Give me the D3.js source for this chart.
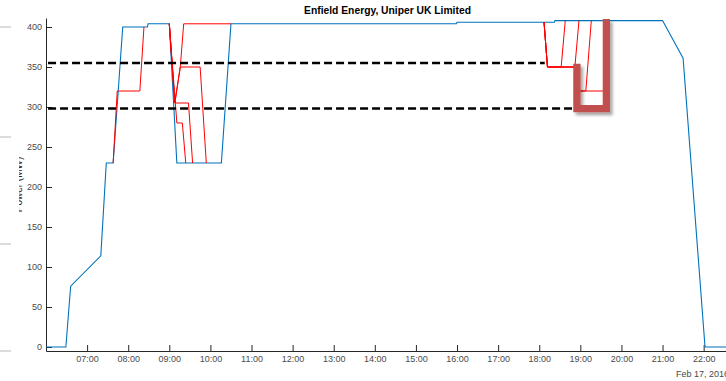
<!DOCTYPE html>
<html><head><meta charset="utf-8">
<script src="https://cdn.jsdelivr.net/npm/d3@7"></script>
<style>
html,body{margin:0;padding:0;background:#fff;overflow:hidden}
svg{display:block;font-family:"Liberation Sans",Arial,sans-serif}
</style></head>
<body>
<svg id="c" width="726" height="381"></svg>
<script>
// ---- data ----
const title = "Enfield Energy, Uniper UK Limited";
const yLabel = "Power (MW)";
const dateLabel = "Feb 17, 2016";
const xDomain = ["06:00", "22:37"];
const yDomain = [-5, 411.25];
const yTicks = [0, 50, 100, 150, 200, 250, 300, 350, 400];
const xTickHours = ["07:00","08:00","09:00","10:00","11:00","12:00","13:00","14:00","15:00","16:00","17:00","18:00","19:00","20:00","21:00","22:00"];

// final notification (blue)
const finalTimes = ["06:00","06:29","06:36","07:20","07:28","07:38","07:52","08:28","08:29","09:00","09:11","10:16","10:30","15:59","16:00","18:22","18:23","21:00","21:30","22:02","22:37"];
const finalValues = [0,0,76,114,230,230,400,400,404,404,230,230,404,404,406,406,408,408,361,0,0];

// earlier revisions (red), only where they differ from the final
const rev1Times = ["07:38","07:44","08:17","08:23"];
const rev1Values = [230,320,320,400];
const rev2Times = ["09:00","09:11","09:19","09:24"];
const rev2Values = [404,280,280,230];
const rev3Times = ["09:00","09:08","09:28","09:34"];
const rev3Values = [404,305,305,230];
const rev4Times = ["09:00","09:08","09:16","09:45","09:54"];
const rev4Values = [404,305,350,350,230];
const rev5Times = ["09:00","09:08","09:16","09:21","10:30"];
const rev5Values = [404,305,350,404,404];
const rev6Times = ["18:07","18:12","18:32","18:38"];
const rev6Values = [406,350,350,408];
const rev7Times = ["18:07","18:12","18:52","18:58"];
const rev7Values = [406,350,350,408];
const rev8Times = ["18:07","18:12","18:53","18:54","19:08","19:16"];
const rev8Values = [406,350,350,320,320,408];
const rev9Times = ["18:07","18:12","18:53","18:54","19:38","19:40"];
const rev9Values = [406,350,350,320,320,408];

// annotations
const thresholdValues = [355, 298];
const thresholdStart = "06:03";
const thresholdEnds = ["18:08", "18:49"];
const markTimes = ["18:55","18:55","19:38","19:38"];
const markValues = [354,298,298,410];

// ---- drawing ----
const parse = d3.timeParse("%Y-%m-%d %H:%M");
const T = s => parse("2016-02-17 " + s);
const zip = (ts, vs) => ts.map((t, i) => [T(t), vs[i]]);

const svg = d3.select("#c");
const defs = svg.append("defs");
const f = defs.append("filter").attr("id","sh").attr("x","-50%").attr("y","-50%").attr("width","200%").attr("height","200%");
f.append("feDropShadow").attr("dx",2.5).attr("dy",3).attr("stdDeviation",1.8).attr("flood-color","#000").attr("flood-opacity",0.35);
defs.append("clipPath").attr("id","ylc").append("rect").attr("x",19).attr("y",0).attr("width",20).attr("height",381);

const x = d3.scaleTime().domain(xDomain.map(T)).range([46, 729]);
const y = d3.scaleLinear().domain(yDomain).range([351, 18]);

// faint marks at far left (screenshot artifacts)
[27, 137, 244, 351].forEach(py => {
  svg.append("line").attr("x1",0).attr("x2",11).attr("y1",py).attr("y2",py)
    .attr("stroke","#dcdcdc").attr("stroke-width",2);
});

const tickColor = "#262626";
// y axis
const gy = svg.append("g").attr("transform", `translate(${x.range()[0]},0)`)
  .call(d3.axisLeft(y).tickValues(yTicks).tickSizeInner(-6).tickSizeOuter(0).tickPadding(4));
gy.select(".domain").attr("stroke", tickColor);
gy.selectAll(".tick line").attr("stroke", tickColor);
gy.selectAll(".tick text").attr("fill","#4a4a4a").attr("font-size", 9).attr("font-family","Liberation Sans, Arial, sans-serif");

// x axis
const gx = svg.append("g").attr("transform", `translate(0,${y.range()[0]})`)
  .call(d3.axisBottom(x).tickValues(xTickHours.map(T)).tickFormat(d3.timeFormat("%H:%M")).tickSizeInner(-6).tickSizeOuter(0).tickPadding(5));
gx.select(".domain").attr("stroke", tickColor);
gx.selectAll(".tick line").attr("stroke", tickColor);
gx.selectAll(".tick text").attr("fill","#4a4a4a").attr("font-size", 9).attr("font-family","Liberation Sans, Arial, sans-serif");

svg.append("text").attr("x", x.range()[1]).attr("y", 377).attr("text-anchor","end")
  .attr("font-size", 9).attr("fill","#4a4a4a").text(dateLabel);

// y label (mostly cropped)
svg.append("g").attr("clip-path","url(#ylc)")
  .append("text").attr("transform", `translate(22,${(y.range()[0]+y.range()[1])/2}) rotate(-90)`)
  .attr("text-anchor","middle").attr("font-size",10).attr("fill","#262626").text(yLabel);

// title
svg.append("text").attr("x", (x.range()[0]+x.range()[1])/2).attr("y", 14).attr("text-anchor","middle")
  .attr("font-size", 10.3).attr("font-weight","bold").attr("fill","#000").text(title);

const line = d3.line().x(d => x(d[0])).y(d => y(d[1]));

svg.append("path").datum(zip(finalTimes, finalValues)).attr("d", line)
  .attr("fill","none").attr("stroke","#0072BD").attr("stroke-width",1.1);

const revs = [[rev1Times,rev1Values],[rev2Times,rev2Values],[rev3Times,rev3Values],[rev4Times,rev4Values],[rev5Times,rev5Values],
              [rev6Times,rev6Values],[rev7Times,rev7Values],[rev8Times,rev8Values],[rev9Times,rev9Values]];
revs.forEach(([ts, vs]) => {
  svg.append("path").datum(zip(ts, vs)).attr("d", line)
    .attr("fill","none").attr("stroke","#ff0000").attr("stroke-width",1);
});

// dashed threshold lines
thresholdValues.forEach((v, i) => {
  svg.append("line").attr("x1", x(T(thresholdStart))).attr("x2", x(T(thresholdEnds[i])))
    .attr("y1", y(v)).attr("y2", y(v))
    .attr("stroke","#000").attr("stroke-width",2.5).attr("stroke-dasharray","8,4");
});

// highlight mark
svg.append("path").datum(zip(markTimes, markValues)).attr("d", line)
  .attr("fill","none").attr("stroke","#c0504d").attr("stroke-width",7.3)
  .attr("stroke-linejoin","miter").attr("stroke-linecap","butt").attr("filter","url(#sh)");
</script>
</body></html>
